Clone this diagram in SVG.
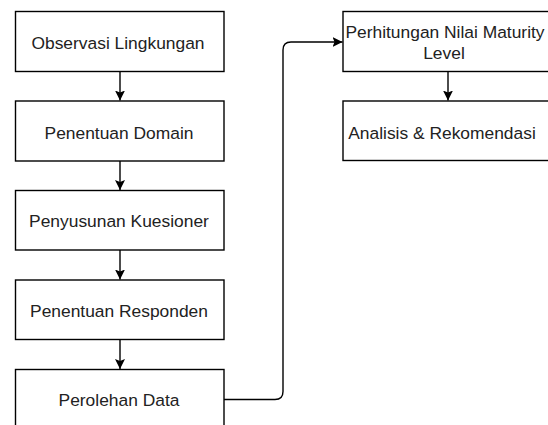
<svg xmlns="http://www.w3.org/2000/svg" width="548" height="425" viewBox="0 0 548 425">
<style>
.box{fill:#fff;stroke:#000;stroke-width:1.4}
.lbl{font-family:"Liberation Sans",Arial,sans-serif;font-size:17.4px;fill:#222;text-anchor:middle}
.edge{fill:none;stroke:#000;stroke-width:1.4}
</style>
<defs>
<marker id="arr" markerWidth="12" markerHeight="12" refX="10" refY="5.5" orient="auto" markerUnits="userSpaceOnUse">
<path d="M0,0.5 L10,5.5 L0,10.5 L2,5.5 Z" fill="#000"/>
</marker>
</defs>
<rect width="548" height="425" fill="#fff"/>
<g id="connectors">
<path class="edge" d="M120,71.5 V100.5" marker-end="url(#arr)"/>
<path class="edge" d="M120,161 V190" marker-end="url(#arr)"/>
<path class="edge" d="M120,250 V279.5" marker-end="url(#arr)"/>
<path class="edge" d="M120,339.5 V369" marker-end="url(#arr)"/>
<path class="edge" d="M448,71.5 V100.5" marker-end="url(#arr)"/>
<path class="edge" d="M224,399.5 H275 Q283,399.5 283,391.5 V50 Q283,42 291,42 H342.5" marker-end="url(#arr)"/>
</g>
<g id="n1"><rect class="box" x="15.5" y="11.5" width="208.5" height="60"/><text class="lbl" x="118" y="49">Observasi Lingkungan</text></g>
<g id="n2"><rect class="box" x="15.5" y="101" width="208.5" height="60"/><text class="lbl" x="119" y="139">Penentuan Domain</text></g>
<g id="n3"><rect class="box" x="15.5" y="190.5" width="208.5" height="59.5"/><text class="lbl" x="119" y="227">Penyusunan Kuesioner</text></g>
<g id="n4"><rect class="box" x="15.5" y="280" width="208.5" height="59.5"/><text class="lbl" x="119" y="317">Penentuan Responden</text></g>
<g id="n5"><rect class="box" x="15.5" y="369.5" width="208.5" height="60"/><text class="lbl" x="119" y="406">Perolehan Data</text></g>
<g id="n6"><rect class="box" x="343" y="11.5" width="209" height="60"/><text class="lbl" x="445" y="38">Perhitungan Nilai Maturity</text><text class="lbl" x="444" y="59">Level</text></g>
<g id="n7"><rect class="box" x="343" y="101" width="209" height="59.5"/><text class="lbl" x="442" y="139">Analisis &amp; Rekomendasi</text></g>
</svg>
